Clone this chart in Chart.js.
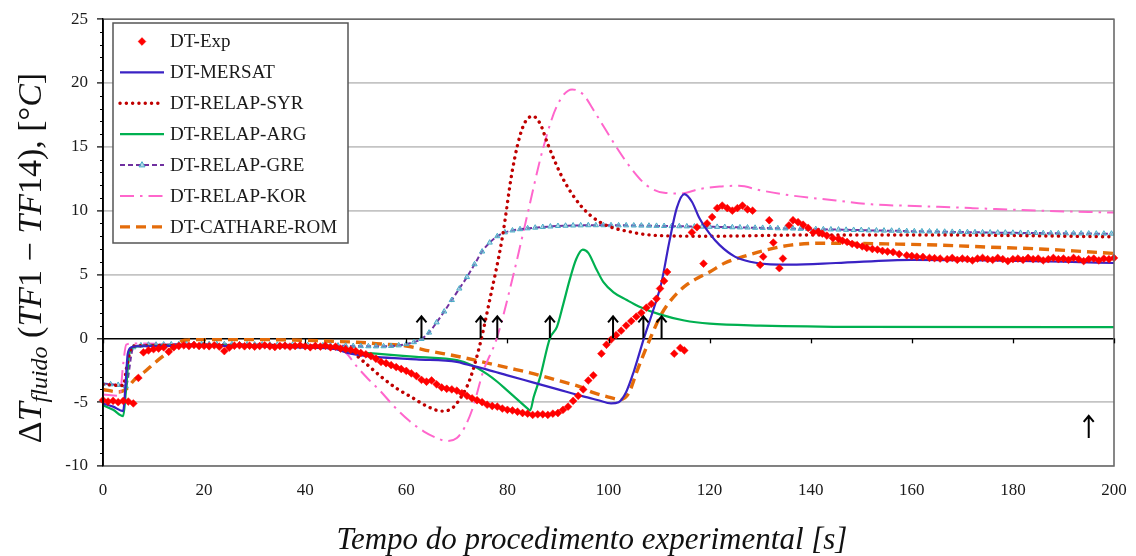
<!DOCTYPE html>
<html>
<head>
<meta charset="utf-8">
<style>
  html, body { margin: 0; padding: 0; background: #fff; }
  #wrap { width: 1136px; height: 556px; }
</style>
<script src="https://cdn.jsdelivr.net/npm/chart.js@4.4.0/dist/chart.umd.min.js"></script>
</head>
<body>
<div id="wrap"><canvas id="chart" width="1136" height="556"></canvas></div>
<script>
// Experimental temperature difference (diamonds)
const expTime = [
  0, 1, 2, 3, 4, 5, 6, 7, 8, 9,
  10, 11, 12, 13, 14, 15, 16, 17, 18, 19,
  20, 21, 22, 23, 24, 25, 26, 27, 28, 29,
  30, 31, 32, 33, 34, 35, 36, 37, 38, 39,
  40, 41, 42, 43, 44, 45, 46, 47, 48, 49,
  50, 51, 52, 53, 54, 55, 56, 57, 58, 59,
  60, 61, 62, 63, 64, 65, 66, 67, 68, 69,
  70, 71, 72, 73, 74, 75, 76, 77, 78, 79,
  80, 81, 82, 83, 84, 85, 86, 87, 88, 89,
  90, 91, 92, 93, 94, 95, 96, 97, 98.6, 99.6,
  100.5, 101.5, 102.5, 103.5, 104.5, 105.5, 106.5, 107.5, 108.5, 109.5,
  110.2, 111, 111.6, 113, 114.2, 115, 116.5, 117.5, 118.8, 119.5,
  120.5, 121.5, 122.5, 123.5, 124.5, 125.5, 126.5, 127.5, 128.5, 130,
  130.6, 131.8, 132.6, 133.8, 134.5, 135.7, 136.5, 137.5, 138.5, 139.5,
  140.5, 141.5, 142.3, 143.2, 144.4, 145.5, 146.3, 147.2, 148.2, 149.2,
  150.2, 151.1, 152.2, 153.2, 154.2, 155.2, 156.3, 157.5, 159, 160,
  161, 162.2, 163.5, 164.5, 165.6, 167, 168, 169, 170, 171,
  172, 173, 174, 175, 176, 177, 178, 179, 180, 181,
  182, 183, 184, 185, 186, 187, 188, 189, 190, 191,
  192, 193, 194, 195, 196, 197, 198, 199, 200
];
const expValue = [
  -4.85, -4.95, -4.9, -5.0, -4.9, -4.95, -5.1, -3.1, -1.1, -0.95,
  -0.85, -0.8, -0.7, -1.05, -0.7, -0.6, -0.55, -0.6, -0.52, -0.6,
  -0.58, -0.62, -0.55, -0.65, -1.0, -0.72, -0.58, -0.55, -0.62, -0.58,
  -0.65, -0.6, -0.55, -0.62, -0.68, -0.6, -0.58, -0.65, -0.6, -0.55,
  -0.62, -0.7, -0.6, -0.65, -0.58, -0.7, -0.65, -0.8, -0.85, -0.9,
  -1.0, -1.15, -1.25, -1.4, -1.6, -1.85, -1.95, -2.1, -2.25, -2.4,
  -2.55, -2.75, -2.95, -3.25, -3.4, -3.3, -3.6, -3.85, -3.95, -4.0,
  -4.1, -4.3, -4.5, -4.7, -4.85, -5.0, -5.2, -5.3, -5.35, -5.5,
  -5.6, -5.65, -5.75, -5.85, -5.9, -6.0, -5.95, -5.95, -6.0, -5.9,
  -5.85, -5.6, -5.35, -4.9, -4.5, -4.0, -3.3, -2.9, -1.2, -0.5,
  -0.1, 0.25, 0.6, 1.0, 1.35, 1.7, 2.0, 2.4, 2.7, 3.1,
  3.9, 4.5, 5.2, -1.2, -0.75, -0.95, 8.3, 8.7, 5.85, 9.0,
  9.5, 10.2, 10.4, 10.2, 10.0, 10.2, 10.4, 10.1, 10.0, 5.75,
  6.4, 9.25, 7.5, 5.5, 6.25, 8.85, 9.25, 9.1, 8.9, 8.65,
  8.3, 8.35, 8.2, 8.05, 7.85, 7.8, 7.65, 7.55, 7.4, 7.3,
  7.2, 7.08, 7.0, 6.95, 6.85, 6.8, 6.75, 6.6, 6.5, 6.45,
  6.4, 6.38, 6.3, 6.28, 6.25, 6.2, 6.3, 6.15, 6.25, 6.2,
  6.1, 6.25, 6.3, 6.2, 6.15, 6.3, 6.2, 6.05, 6.2, 6.25,
  6.15, 6.3, 6.2, 6.25, 6.1, 6.2, 6.3, 6.2, 6.25, 6.15,
  6.3, 6.2, 6.05, 6.2, 6.25, 6.1, 6.25, 6.2, 6.3
];

// MERSAT
const mersatTime = [0, 2, 4, 4.4, 4.9, 5.6, 7, 20, 30, 40, 45, 46, 49, 54, 62, 70, 72, 76, 80, 85, 90, 95, 98, 100.5, 102, 103.5, 105, 107, 109, 110.5, 112, 113.5, 115, 116.5, 118, 120, 122, 125, 128, 132, 136, 145, 160, 175, 190, 200];
const mersatValue = [-5.1, -5.35, -5.7, -4.0, -1.2, -0.7, -0.62, -0.58, -0.62, -0.72, -0.8, -0.85, -1.2, -1.45, -1.65, -1.85, -2.05, -2.45, -2.9, -3.45, -4.0, -4.55, -4.85, -5.1, -5.0, -4.2, -2.6, 0.0, 2.4, 4.4, 7.5, 10.2, 11.3, 10.7, 9.4, 8.2, 7.3, 6.4, 6.0, 5.8, 5.78, 5.9, 6.15, 6.1, 6.0, 5.9];

// RELAP - SYR
const syrTime = [0, 4, 4.8, 5.8, 20, 40, 47, 49, 51.5, 55, 58, 61, 64, 67, 69, 70.5, 72.5, 74.5, 76.5, 79, 81, 83, 85, 86.5, 88, 91, 94.5, 98.3, 104.8, 110, 120, 140, 160, 180, 200];
const syrValue = [-3.6, -3.7, -2.0, -0.6, -0.55, -0.6, -0.75, -1.0, -1.8, -3.0, -3.9, -4.6, -5.3, -5.7, -5.5, -4.8, -3.3, -0.6, 3.0, 7.9, 13.2, 16.5, 17.4, 16.8, 15.2, 12.5, 10.4, 9.1, 8.3, 8.05, 8.0, 8.1, 8.1, 8.05, 7.95];

// RELAP - ARG
const argTime = [0, 2, 4, 4.5, 5.2, 6, 8, 20, 40, 46, 49, 54, 62, 70, 73, 76, 78, 80, 82, 84, 84.5, 85.2, 86.5, 88.4, 89.8, 91, 92.4, 93.6, 94.9, 96, 97.5, 99, 101, 103.6, 106, 110, 115, 120, 130, 150, 200];
const argValue = [-5.25, -5.6, -6.1, -4.3, -1.2, -0.7, -0.6, -0.55, -0.65, -0.75, -1.05, -1.2, -1.45, -1.7, -2.1, -2.8, -3.4, -4.1, -4.8, -5.5, -5.65, -4.6, -3.0, 0.0, 0.9, 2.6, 4.7, 6.2, 6.95, 6.7, 5.5, 4.4, 3.6, 3.0, 2.5, 1.9, 1.4, 1.15, 1.0, 0.9, 0.88];

// RELAP - GRE (dashed line with triangle markers)
const greTime = [
  0, 1.5, 3, 4.5, 6, 7.5, 9, 10.5, 12, 13.5,
  15, 16.5, 18, 19.5, 21, 22.5, 24, 25.5, 27, 28.5,
  30, 31.5, 33, 34.5, 36, 37.5, 39, 40.5, 42, 43.5,
  45, 46.5, 48, 49.5, 51, 52.5, 54, 55.5, 57, 58.5,
  60, 61.5, 63, 64.5, 66, 67.5, 69, 70.5, 72, 73.5,
  75, 76.5, 78, 79.5, 81, 82.5, 84, 85.5, 87, 88.5,
  90, 91.5, 93, 94.5, 96, 97.5, 99, 100.5, 102, 103.5,
  105, 106.5, 108, 109.5, 111, 112.5, 114, 115.5, 117, 118.5,
  120, 121.5, 123, 124.5, 126, 127.5, 129, 130.5, 132, 133.5,
  135, 136.5, 138, 139.5, 141, 142.5, 144, 145.5, 147, 148.5,
  150, 151.5, 153, 154.5, 156, 157.5, 159, 160.5, 162, 163.5,
  165, 166.5, 168, 169.5, 171, 172.5, 174, 175.5, 177, 178.5,
  180, 181.5, 183, 184.5, 186, 187.5, 189, 190.5, 192, 193.5,
  195, 196.5, 198, 199.5
];
const greValue = [
  -3.55, -3.6, -3.65, -3.75, -0.7, -0.55, -0.5, -0.5, -0.48, -0.47,
  -0.46, -0.46, -0.45, -0.45, -0.45, -0.45, -0.46, -0.46, -0.47, -0.47,
  -0.48, -0.48, -0.49, -0.5, -0.5, -0.51, -0.52, -0.53, -0.54, -0.55,
  -0.56, -0.57, -0.58, -0.6, -0.61, -0.62, -0.63, -0.62, -0.6, -0.55,
  -0.45, -0.3, -0.05, 0.45, 1.25, 2.1, 3.0, 3.9, 4.8, 5.8,
  6.8, 7.5, 8.0, 8.3, 8.45, 8.55, 8.62, 8.67, 8.72, 8.76,
  8.8, 8.82, 8.84, 8.85, 8.86, 8.86, 8.86, 8.86, 8.85, 8.85,
  8.84, 8.83, 8.82, 8.81, 8.8, 8.79, 8.78, 8.77, 8.76, 8.75,
  8.74, 8.73, 8.72, 8.7, 8.69, 8.68, 8.66, 8.65, 8.64, 8.62,
  8.61, 8.6, 8.58, 8.57, 8.56, 8.54, 8.53, 8.52, 8.5, 8.49,
  8.48, 8.46, 8.45, 8.44, 8.43, 8.42, 8.4, 8.39, 8.38, 8.37,
  8.36, 8.35, 8.34, 8.33, 8.32, 8.31, 8.3, 8.29, 8.28, 8.28,
  8.27, 8.26, 8.25, 8.25, 8.24, 8.23, 8.23, 8.22, 8.22, 8.21,
  8.21, 8.2, 8.2, 8.2
];

// RELAP - KOR
const korTime = [0, 3.3, 4, 4.6, 6, 20, 40, 46, 48, 50.2, 52.5, 54.8, 57.5, 60.7, 63.5, 66, 68, 70, 71.5, 73.2, 75.2, 77.9, 81.2, 83.9, 87, 89.8, 92.8, 95, 97, 99.5, 101.7, 104.5, 107.5, 111, 114.5, 118, 122, 125.8, 130, 136, 145, 152, 162, 172, 185, 200];
const korValue = [-4.4, -4.5, -2.0, -0.5, -0.4, -0.5, -0.6, -0.7, -1.1, -2.2, -3.2, -4.1, -5.3, -6.5, -7.3, -7.8, -8.05, -7.8, -7.0, -5.4, -2.6, 0.0, 5.0, 9.6, 14.8, 18.2, 19.5, 19.1, 17.9, 16.3, 14.9, 13.3, 12.0, 11.4, 11.35, 11.7, 11.9, 11.95, 11.6, 11.2, 10.8, 10.5, 10.35, 10.2, 10.0, 9.85];

// CATHARE - ROM
const romTime = [0, 3, 4.5, 6.3, 8.3, 10.3, 12.3, 14.2, 16.2, 20, 30, 40, 45, 50, 55, 60, 64.7, 70, 74.6, 80, 84.5, 90, 94, 97, 100, 102.3, 104, 105.6, 107.3, 108.8, 110.2, 111.6, 113.5, 115.5, 118, 120, 123, 126.6, 131, 136, 142, 146, 155, 165.6, 175, 185.4, 192, 200];
const romValue = [-4.0, -4.2, -4.0, -3.2, -2.6, -1.9, -1.25, -0.6, -0.15, -0.1, -0.1, -0.15, -0.23, -0.3, -0.44, -0.6, -1.0, -1.4, -1.8, -2.3, -2.7, -3.3, -3.75, -4.25, -4.6, -4.8, -4.3, -2.6, -0.9, 0.5, 1.7, 2.6, 3.5, 4.2, 4.8, 5.2, 5.9, 6.4, 6.9, 7.3, 7.45, 7.45, 7.4, 7.3, 7.15, 7.0, 6.85, 6.65];

// Arrow markers (time, value at arrow foot)
const arrowTime = [63, 74.7, 78, 88.4, 100.9, 106.9, 110.5, 195];
const arrowBase = [0, 0, 0, 0, 0, 0, 0, -7.8];

const xTicks = [0, 20, 40, 60, 80, 100, 120, 140, 160, 180, 200];

const pts = (xs, ys) => xs.map((x, i) => ({ x: x, y: ys[i] }));
const serif = 'Liberation Serif, Times New Roman, serif';

const datasets = [
  {
    label: 'DT-Exp', data: pts(expTime, expValue), showLine: false,
    pointStyle: 'rectRot', pointRadius: 3.9, pointBackgroundColor: '#ff0000',
    pointBorderColor: '#ff0000', pointBorderWidth: 0.5, clip: 6
  },
  {
    label: 'DT-MERSAT', data: pts(mersatTime, mersatValue), showLine: true,
    borderColor: '#3a22c4', borderWidth: 2.2, pointRadius: 0
  },
  {
    label: 'DT-RELAP-SYR', data: pts(syrTime, syrValue), showLine: true,
    borderColor: '#c00000', borderWidth: 3.4, borderDash: [0.1, 6.2], borderCapStyle: 'round', pointRadius: 0
  },
  {
    label: 'DT-RELAP-ARG', data: pts(argTime, argValue), showLine: true,
    borderColor: '#00b050', borderWidth: 2.2, pointRadius: 0
  },
  {
    label: 'DT-RELAP-GRE', data: pts(greTime, greValue), showLine: true,
    borderColor: '#7030a0', borderWidth: 2, borderDash: [5, 3],
    pointStyle: 'triangle', pointRadius: 3, pointBackgroundColor: 'rgba(120,190,215,0.55)',
    pointBorderColor: '#4bacc6', pointBorderWidth: 1
  },
  {
    label: 'DT-RELAP-KOR', data: pts(korTime, korValue), showLine: true,
    borderColor: '#ff66cc', borderWidth: 2, borderDash: [14, 6, 2.5, 6], pointRadius: 0
  },
  {
    label: 'DT-CATHARE-ROM', data: pts(romTime, romValue), showLine: true,
    borderColor: '#e46c0a', borderWidth: 3.4, borderDash: [10, 6], pointRadius: 0
  }
];

// Legend box, arrows, axis decorations and titles
const decorations = {
  id: 'decorations',
  afterDraw(chart) {
    const { ctx, chartArea: a } = chart;
    const xs = chart.scales.x, ys = chart.scales.y;
    ctx.save();

    // plot frame
    ctx.strokeStyle = '#6a6a6a';
    ctx.lineWidth = 1.6;
    ctx.beginPath();
    ctx.moveTo(a.left, a.top);
    ctx.lineTo(a.right, a.top);
    ctx.lineTo(a.right, a.bottom);
    ctx.lineTo(a.left, a.bottom);
    ctx.stroke();
    ctx.strokeStyle = '#000';
    ctx.beginPath();
    ctx.moveTo(a.left, a.top);
    ctx.lineTo(a.left, a.bottom);
    ctx.stroke();

    // minor ticks on the value axis
    ctx.lineWidth = 1;
    for (let v = ys.min; v <= ys.max; v++) {
      if (v % 5 === 0) continue;
      const py = Math.round(ys.getPixelForValue(v)) + 0.5;
      ctx.beginPath();
      ctx.moveTo(a.left - 3, py);
      ctx.lineTo(a.left, py);
      ctx.stroke();
    }

    // ticks hanging from the zero line
    const y0 = ys.getPixelForValue(0);
    ctx.lineWidth = 1.3;
    xTicks.forEach(t => {
      const px = Math.round(xs.getPixelForValue(t)) + 0.5;
      ctx.beginPath();
      ctx.moveTo(px, y0);
      ctx.lineTo(px, y0 + 5);
      ctx.stroke();
    });

    // arrows
    ctx.lineWidth = 2;
    ctx.lineJoin = 'miter';
    arrowTime.forEach((t, i) => {
      const px = xs.getPixelForValue(t);
      const py = ys.getPixelForValue(arrowBase[i]);
      ctx.beginPath();
      ctx.moveTo(px, py);
      ctx.lineTo(px, py - 22);
      ctx.moveTo(px - 5, py - 16);
      ctx.lineTo(px, py - 22);
      ctx.lineTo(px + 5, py - 16);
      ctx.stroke();
    });

    // legend
    const lx = 113, ly = 23, lw = 235, lh = 220;
    ctx.fillStyle = '#fff';
    ctx.fillRect(lx, ly, lw, lh);
    ctx.strokeStyle = '#555';
    ctx.lineWidth = 1.5;
    ctx.strokeRect(lx, ly, lw, lh);
    ctx.font = '19px ' + serif;
    ctx.textBaseline = 'middle';
    chart.data.datasets.forEach((ds, i) => {
      const cy = ly + 18.5 + i * 30.9;
      if (ds.showLine) {
        ctx.save();
        ctx.strokeStyle = ds.borderColor;
        ctx.lineWidth = ds.borderWidth;
        ctx.setLineDash(ds.borderDash || []);
        ctx.lineCap = ds.borderCapStyle || 'butt';
        ctx.beginPath();
        ctx.moveTo(120, cy);
        ctx.lineTo(164, cy);
        ctx.stroke();
        ctx.restore();
      }
      if (ds.pointRadius > 0) {
        const r = ds.pointRadius, cx = 142;
        ctx.save();
        ctx.fillStyle = ds.pointBackgroundColor;
        ctx.strokeStyle = ds.pointBorderColor;
        ctx.lineWidth = ds.pointBorderWidth;
        ctx.beginPath();
        if (ds.pointStyle === 'rectRot') {
          ctx.moveTo(cx - r, cy); ctx.lineTo(cx, cy - r);
          ctx.lineTo(cx + r, cy); ctx.lineTo(cx, cy + r);
        } else {
          ctx.moveTo(cx, cy - r * 1.15); ctx.lineTo(cx + r, cy + r * 0.6);
          ctx.lineTo(cx - r, cy + r * 0.6);
        }
        ctx.closePath();
        ctx.fill();
        ctx.stroke();
        ctx.restore();
      }
      ctx.fillStyle = '#1a1a1a';
      ctx.fillText(ds.label, 170, cy + 1);
    });

    // x axis title
    ctx.fillStyle = '#111';
    ctx.textBaseline = 'alphabetic';
    ctx.textAlign = 'center';
    ctx.font = 'italic 31px ' + serif;
    ctx.fillText('Tempo do procedimento experimental [s]', 592, 549);

    // y axis title with subscript
    const parts = [
      ['Δ', '', 34, 0], ['T', 'italic ', 34, 0], ['fluido', 'italic ', 24, 6],
      [' (', '', 34, 0], ['TF', 'italic ', 34, 0], ['1', '', 34, 0],
      [' − ', '', 34, 0], ['TF', 'italic ', 34, 0], ['14', '', 34, 0],
      ['), [°', '', 34, 0], ['C', 'italic ', 34, 0], [']', '', 34, 0]
    ];
    ctx.textAlign = 'left';
    let total = 0;
    parts.forEach(p => { ctx.font = p[1] + p[2] + 'px ' + serif; total += ctx.measureText(p[0]).width; });
    ctx.translate(41, 258);
    ctx.rotate(-Math.PI / 2);
    let cx = -total / 2;
    parts.forEach(p => {
      ctx.font = p[1] + p[2] + 'px ' + serif;
      ctx.fillText(p[0], cx, p[3]);
      cx += ctx.measureText(p[0]).width;
    });
    ctx.restore();
  }
};

new Chart(document.getElementById('chart'), {
  type: 'scatter',
  data: { datasets: datasets },
  options: {
    responsive: false,
    animation: false,
    devicePixelRatio: 1,
    layout: { padding: { top: 16, right: 22, left: 0, bottom: 0 } },
    elements: { line: { cubicInterpolationMode: 'monotone', fill: false } },
    plugins: { legend: { display: false }, tooltip: { enabled: false } },
    scales: {
      x: {
        type: 'linear', min: 0, max: 200,
        afterBuildTicks: s => { s.ticks = xTicks.map(v => ({ value: v })); },
        ticks: { padding: 14, color: '#1a1a1a', maxRotation: 0, font: { family: serif, size: 17 } },
        grid: { display: false, drawTicks: false },
        border: { display: false },
        afterFit: s => { s.height = 90; s.paddingLeft = 0; s.paddingRight = 0; }
      },
      y: {
        min: -10, max: 25,
        ticks: { stepSize: 5, padding: 9, color: '#1a1a1a', font: { family: serif, size: 17 } },
        grid: {
          color: c => (c.tick && c.tick.value === 0 ? '#000' : '#c4c4c4'),
          lineWidth: c => (c.tick && c.tick.value === 0 ? 1.6 : 1.8),
          tickLength: 6, tickColor: '#000', tickWidth: 1.2
        },
        border: { display: true, color: '#000', width: 1.6 },
        afterFit: s => { s.width = 103; }
      }
    }
  },
  plugins: [decorations]
});
</script>
</body>
</html>
